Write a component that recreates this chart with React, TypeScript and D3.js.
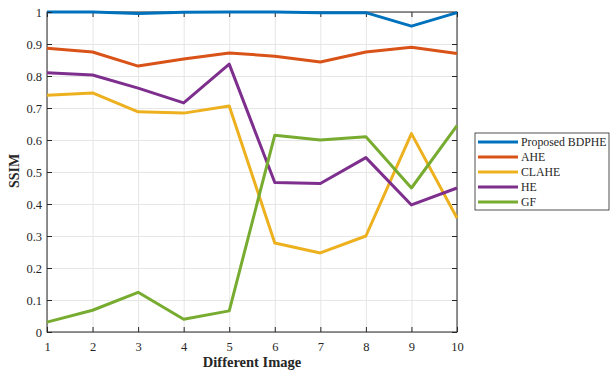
import { useRef, useEffect } from 'react';
import * as d3 from 'd3';

const images = [1, 2, 3, 4, 5, 6, 7, 8, 9, 10];
const yTicks = [0, 0.1, 0.2, 0.3, 0.4, 0.5, 0.6, 0.7, 0.8, 0.9, 1];

const proposed = [1, 1, 0.995, 0.999, 1, 1, 0.998, 0.998, 0.956, 0.998];
const ahe = [0.887, 0.875, 0.831, 0.853, 0.872, 0.862, 0.844, 0.875, 0.89, 0.87];
const clahe = [0.74, 0.747, 0.688, 0.684, 0.706, 0.278, 0.247, 0.3, 0.62, 0.356];
const he = [0.81, 0.803, 0.762, 0.716, 0.837, 0.467, 0.464, 0.545, 0.397, 0.45];
const gf = [0.031, 0.068, 0.124, 0.04, 0.066, 0.615, 0.6, 0.61, 0.45, 0.645];

const seriesNames = ['Proposed BDPHE', 'AHE', 'CLAHE', 'HE', 'GF'];
const seriesValues = [proposed, ahe, clahe, he, gf];
const seriesColors = ['#0072BD', '#D95319', '#EDB120', '#7E2F8E', '#77AC30'];

export default function App() {
  const svgRef = useRef<SVGSVGElement>(null);

  useEffect(() => {
    if (!svgRef.current) return;
    const svg = d3.select(svgRef.current);
    svg.selectAll('*').remove();

    const width = 610;
    const height = 370;
    const margin = { top: 12, right: 153, bottom: 38, left: 47 };
    const innerW = width - margin.left - margin.right;
    const innerH = height - margin.top - margin.bottom;
    const font = '"Liberation Serif", "Times New Roman", serif';
    const axisColor = '#262626';

    svg.attr('viewBox', `0 0 ${width} ${height}`);

    const x = d3.scaleLinear().domain([1, 10]).range([0, innerW]);
    const y = d3.scaleLinear().domain([0, 1]).range([innerH, 0]);

    const g = svg.append('g').attr('transform', `translate(${margin.left},${margin.top})`);

    // Grid
    g.append('g')
      .call(d3.axisLeft(y).tickValues(yTicks).tickSize(-innerW).tickFormat(() => ''))
      .call((s) => { s.selectAll('line').attr('stroke', '#e6e6e6'); s.select('.domain').remove(); });
    g.append('g')
      .attr('transform', `translate(0,${innerH})`)
      .call(d3.axisBottom(x).tickValues(images).tickSize(-innerH).tickFormat(() => ''))
      .call((s) => { s.selectAll('line').attr('stroke', '#e6e6e6'); s.select('.domain').remove(); });

    // Box with inward ticks
    g.append('rect')
      .attr('x', 0).attr('y', 0).attr('width', innerW).attr('height', innerH)
      .attr('fill', 'none').attr('stroke', axisColor).attr('stroke-width', 1);
    g.append('g')
      .attr('transform', `translate(${innerW},0)`)
      .call(d3.axisRight(y).tickValues(yTicks).tickSize(-5).tickFormat(() => ''))
      .call((s) => { s.selectAll('line').attr('stroke', axisColor); s.select('.domain').remove(); });
    g.append('g')
      .call(d3.axisTop(x).tickValues(images).tickSize(-5).tickFormat(() => ''))
      .call((s) => { s.selectAll('line').attr('stroke', axisColor); s.select('.domain').remove(); });

    // Lines
    const line = d3.line<number>()
      .x((_, i) => x(images[i]))
      .y((d) => y(d));

    seriesValues.forEach((vals, i) => {
      g.append('path')
        .datum(vals)
        .attr('d', line)
        .attr('fill', 'none')
        .attr('stroke', seriesColors[i])
        .attr('stroke-width', 3)
        .attr('stroke-linejoin', 'round');
    });

    // Axes
    g.append('g')
      .attr('transform', `translate(0,${innerH})`)
      .call(d3.axisBottom(x).tickValues(images).tickSize(-5).tickPadding(10).tickFormat((d) => `${d}`))
      .call((s) => {
        s.selectAll('line').attr('stroke', axisColor);
        s.select('.domain').remove();
        s.selectAll('text').attr('fill', axisColor).style('font-size', '12.5px').style('font-family', font);
      });
    g.append('g')
      .call(d3.axisLeft(y).tickValues(yTicks).tickSize(-5).tickPadding(5).tickFormat((d) => `${d}`))
      .call((s) => {
        s.selectAll('line').attr('stroke', axisColor);
        s.select('.domain').remove();
        s.selectAll('text').attr('fill', axisColor).style('font-size', '12.5px').style('font-family', font);
      });

    // Labels
    svg.append('text')
      .attr('x', margin.left + innerW / 2).attr('y', height - 3)
      .attr('text-anchor', 'middle')
      .attr('fill', axisColor).style('font-size', '14.5px').style('font-weight', 'bold').style('font-family', font)
      .text('Different Image');
    svg.append('text')
      .attr('transform', `translate(19, 171) rotate(-90)`)
      .attr('text-anchor', 'middle')
      .attr('fill', axisColor).style('font-size', '14px').style('font-weight', 'bold').style('font-family', font)
      .text('SSIM');

    // Legend
    const legendG = svg.append('g').attr('transform', 'translate(475,133)');
    legendG.append('rect')
      .attr('x', 0).attr('y', 0).attr('width', 134).attr('height', 77)
      .attr('fill', '#fff').attr('stroke', axisColor).attr('stroke-width', 0.8);
    seriesNames.forEach((name, i) => {
      const yy = 9 + i * 15;
      legendG.append('line')
        .attr('x1', 3).attr('x2', 43).attr('y1', yy).attr('y2', yy)
        .attr('stroke', seriesColors[i]).attr('stroke-width', 3);
      legendG.append('text')
        .attr('x', 46).attr('y', yy + 4)
        .attr('fill', axisColor).style('font-size', '11.8px').style('font-family', font)
        .text(name);
    });
  }, []);

  return (
    <svg
      ref={svgRef}
      width={610}
      height={370}
      style={{ position: 'absolute', left: 0, top: 0, background: '#fff' }}
    />
  );
}
